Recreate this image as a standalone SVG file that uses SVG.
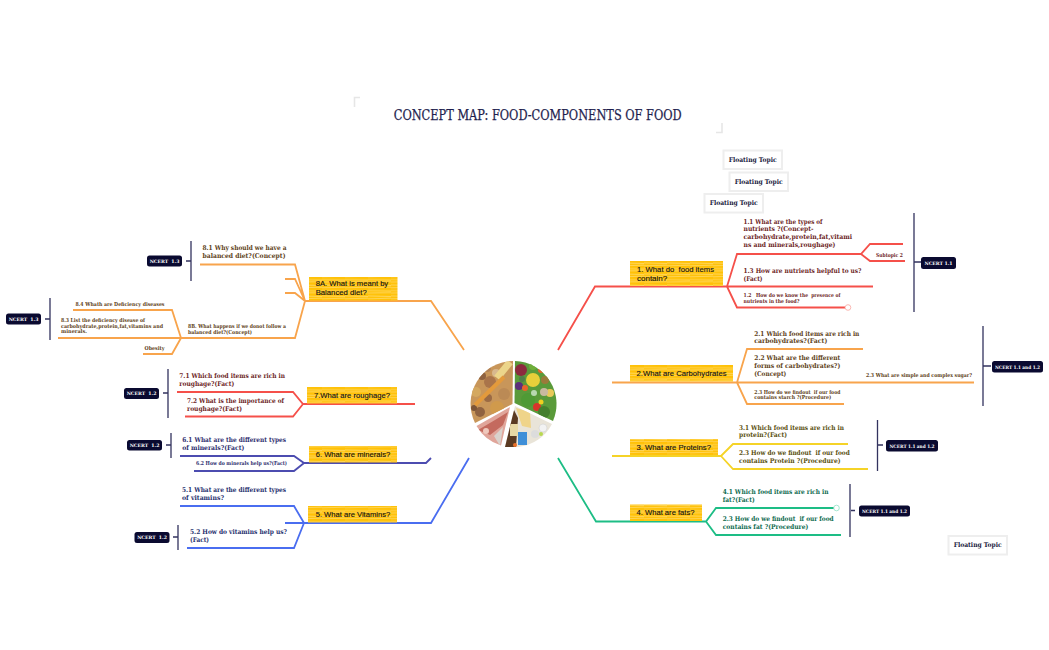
<svg xmlns="http://www.w3.org/2000/svg" width="1049" height="650" viewBox="0 0 1049 650">
<style>
text{font-family:"DejaVu Serif","Liberation Serif",serif;font-weight:700;white-space:pre}
.c{fill:none;stroke-width:1.8;stroke-linejoin:miter}
.red{stroke:#f5504a}.org{stroke:#f8a44c}.yel{stroke:#f5d327}.grn{stroke:#1dbd85}.blu{stroke:#4a6df0}.ind{stroke:#4c4cb0}
.br{stroke:#33335f;stroke-width:1.3;fill:none}
.y{fill:url(#scr)}
.t{font-family:"Liberation Sans",Arial,sans-serif;font-weight:400;font-size:8px;fill:#111;stroke:#111;stroke-width:.12}
.s{font-size:6.600px}.m{font-size:5.400px}
.tr{fill:#6e1f1f}.to{fill:#5e4220}.ty{fill:#5a5010}.tg{fill:#0f6b4f}.tb{fill:#27306e}.ti{fill:#2e2e6e}
.p{fill:#0a0a30}.pt{fill:#fff;font-size:4.600px;text-anchor:middle}
.f{fill:#fff;stroke:#eeeeee;stroke-width:2}.ft{fill:#1a1a40;font-size:6.600px;text-anchor:middle}
</style>
<defs>
<pattern id="scr" width="23" height="5.500" patternUnits="userSpaceOnUse">
<rect width="23" height="5.500" fill="#ffc107"/>
<path d="M0 1.700L23 1.100M0 4.500L23 5" stroke="#ffdf80" stroke-width=".7" fill="none"/>
</pattern>
<clipPath id="pw"><path d="M512.500 404L513 361A43 43 0 0 0 475 423Z"/></clipPath>
<clipPath id="pv"><path d="M514.500 403L515 361A43 43 0 0 1 553 421Z"/></clipPath>
<clipPath id="pd"><path d="M515 406L552 424A43 43 0 0 1 518 447L505 447Z"/></clipPath>
<clipPath id="pm"><path d="M510 407L476.500 426A43 43 0 0 0 501 445.500Z"/></clipPath>
</defs>

<g id="title">
<path d="M360 97.500H354.500V107M716 132.500H722V123" fill="none" stroke="#e6e6e6" stroke-width="1.600"/>
<text x="393.700" y="119.700" font-size="14" textLength="288" lengthAdjust="spacingAndGlyphs" style="font-weight:400;fill:#1e1e4e;stroke:#1e1e4e;stroke-width:.25">CONCEPT MAP: FOOD-COMPONENTS OF FOOD</text>
</g>

<g id="connectors">
<path class="c red" d="M558 350L595 286.500H727M727 286.500L737 254H861L870 244H903M861 254L870 261H905M727 286.500H873M727 286.500L737 307.500H845"/>
<path class="c org" d="M612 382.500H974M737 382.500L747 349H863M737 382.500L747 404H844"/>
<path class="c yel" d="M612 456H721L733 444H848M721 456L733 469H868"/>
<path class="c grn" d="M558 458L596 521.500H706L716 508H834M706 521.500L716 535H841"/>
<path class="c org" d="M464 350L431 301H305M305 301L295 264.500H200M305 301L295 279H285M305 301L295 293H285M305 301L295 338H58M181 338L172 310H73M181 338L172 354H143"/>
<path class="c red" d="M415 404H303L293 392H177M303 404L293 416.500H185"/>
<path class="c ind" d="M431 458L426 463H304L294 456H180M304 463L294 471H194"/>
<path class="c blu" d="M469 458L431 523H285M304 523L294 506H180M304 523L294 548H187"/>
<path class="br" d="M914 213V312M914 262H921M983 326V406M983 366H991M877.500 420V471M878 445H883M850 484V537M851 510.500H855M191 241V281M186 261H191M50 298V340M45 319H50M168 369V418M163 393H168M171 433V458M166 445H171M178 525V550M173 537H178"/>
<circle cx="848" cy="307.500" r="2.800" fill="#fff" stroke="#f9a6a0" stroke-width=".8"/>
<circle cx="836.500" cy="508" r="2.800" fill="#fff" stroke="#8fe0c4" stroke-width=".8"/>
</g>

<g id="center-image">
<g clip-path="url(#pw)">
<rect x="465" y="355" width="50" height="75" fill="#c8965a"/>
<circle cx="490" cy="382" r="6" fill="#a9744a"/><circle cx="496" cy="373" r="4" fill="#d8b88e"/><circle cx="480" cy="412" r="5" fill="#8f6240"/>
<circle cx="504" cy="394" r="6" fill="#bb8a55"/><circle cx="476" cy="392" r="5" fill="#d4a860"/><circle cx="497" cy="408" r="7" fill="#d09a4c"/><circle cx="487" cy="368" r="4" fill="#b28256"/><circle cx="482" cy="376" r="4" fill="#8f6240"/><circle cx="488" cy="398" r="4" fill="#9a6a44"/><circle cx="474" cy="408" r="3" fill="#7d5538"/>
<path d="M510 362L497 378" stroke="#ecd58a" stroke-width="7"/>
<path d="M504 377L475 405" stroke="#e39a3c" stroke-width="4"/>
</g>
<g clip-path="url(#pv)">
<rect x="512" y="355" width="48" height="75" fill="#5a9a3a"/>
<circle cx="521" cy="370" r="6" fill="#8c2a3e"/><circle cx="533" cy="380" r="7" fill="#e8cf3a"/><circle cx="533" cy="366" r="4" fill="#6fae3a"/><circle cx="541" cy="370" r="3" fill="#e8642a"/>
<circle cx="519" cy="386" r="4" fill="#5c2f7a"/><circle cx="545" cy="380" r="4" fill="#9a7a3a"/><circle cx="550" cy="393" r="4" fill="#e8c95a"/><circle cx="522" cy="379" r="3" fill="#4f7f4a"/>
<circle cx="544" cy="392" r="4" fill="#c9b9a0"/><circle cx="537" cy="407" r="4" fill="#d9342a"/><circle cx="525" cy="388" r="3" fill="#e8642a"/><circle cx="528" cy="400" r="7" fill="#4f9a35"/><circle cx="544" cy="412" r="6" fill="#447f2e"/><circle cx="541" cy="402" r="2.500" fill="#f0d020"/><circle cx="534" cy="393" r="3" fill="#b8d8b0"/>
</g>
<g clip-path="url(#pd)">
<rect x="505" y="405" width="52" height="44" fill="#e9e4d8"/>
<path d="M516 408L530 412L531 428L522 426Z" fill="#efd48a"/>
<rect x="518" y="432" width="9" height="13" fill="#3f8fd8"/><circle cx="543" cy="428" r="4" fill="#f2f2f2" stroke="#ccc" stroke-width=".5"/><circle cx="535" cy="434" r="4" fill="#dcdcdc"/><circle cx="541" cy="434" r="2" fill="#b8d850"/>
<path d="M504 424L514 410L518 418L516 447H504Z" fill="#5a3a22"/><rect x="510" y="424" width="8" height="12" fill="#e8d9a6"/><circle cx="515" cy="445" r="2" fill="#e8702a"/>
</g>
<g clip-path="url(#pm)">
<rect x="470" y="405" width="45" height="45" fill="#e0a59a"/>
<path d="M478 430L495 420L508 412L503 425L490 435Z" fill="#c46a5e"/>
<path d="M494 436L503 427L500 446Z" fill="#d9d2cc"/>
<circle cx="486" cy="431" r="3" fill="#efc8bc"/>
</g>
</g>

<g id="floating-1"><rect class="f" x="723.500" y="150.500" width="58.500" height="18.500"/><text class="ft" x="752.700" y="161.500" textLength="48" lengthAdjust="spacingAndGlyphs">Floating Topic</text></g>
<g id="floating-2"><rect class="f" x="729.500" y="172.500" width="58.500" height="18.500"/><text class="ft" x="758.700" y="183.500" textLength="48" lengthAdjust="spacingAndGlyphs">Floating Topic</text></g>
<g id="floating-3"><rect class="f" x="704.500" y="194" width="58.500" height="18.500"/><text class="ft" x="733.700" y="205" textLength="48" lengthAdjust="spacingAndGlyphs">Floating Topic</text></g>
<g id="floating-4"><rect class="f" x="948.500" y="536" width="58.500" height="18.500"/><text class="ft" x="977.700" y="547" textLength="48" lengthAdjust="spacingAndGlyphs">Floating Topic</text></g>

<g id="topic-1"><rect class="y" x="630" y="261" width="93" height="25"/><text class="t" x="637" y="271.700" textLength="77" lengthAdjust="spacingAndGlyphs">1. What do  food items</text><text class="t" x="637" y="280.500">contain?</text></g>
<g id="topic-2"><rect class="y" x="630" y="365" width="103" height="16.500"/><text class="t" x="636.500" y="376" textLength="90" lengthAdjust="spacingAndGlyphs">2.What are Carbohydrates</text></g>
<g id="topic-3"><rect class="y" x="630" y="439" width="88" height="16"/><text class="t" x="636.500" y="450" textLength="74.500" lengthAdjust="spacingAndGlyphs">3. What are Proteins?</text></g>
<g id="topic-4"><rect class="y" x="630" y="504.500" width="72" height="16.500"/><text class="t" x="636.500" y="515" textLength="58" lengthAdjust="spacingAndGlyphs">4. What are fats?</text></g>
<g id="topic-8a"><rect class="y" x="309" y="277" width="88.500" height="23.500"/><text class="t" x="315.700" y="286" textLength="72.500" lengthAdjust="spacingAndGlyphs">8A. What is meant by</text><text class="t" x="315.700" y="295" textLength="51" lengthAdjust="spacingAndGlyphs">Balanced diet?</text></g>
<g id="topic-7"><rect class="y" x="307" y="387" width="90" height="16.500"/><text class="t" x="314" y="398" textLength="76" lengthAdjust="spacingAndGlyphs">7.What are roughage?</text></g>
<g id="topic-6"><rect class="y" x="309" y="446" width="88" height="16.500"/><text class="t" x="315.700" y="456.700" textLength="74.500" lengthAdjust="spacingAndGlyphs">6. What are minerals?</text></g>
<g id="topic-5"><rect class="y" x="308" y="506" width="89" height="16.500"/><text class="t" x="315.700" y="516.700" textLength="74.500" lengthAdjust="spacingAndGlyphs">5. What are Vitamins?</text></g>

<g id="n-1-1"><text class="s tr" x="743.500" y="223.500" textLength="79" lengthAdjust="spacingAndGlyphs">1.1 What are the types of</text><text class="s tr" x="743.500" y="231" textLength="70" lengthAdjust="spacingAndGlyphs">nutrients ?(Concept-</text><text class="s tr" x="743.500" y="239" textLength="108.700" lengthAdjust="spacingAndGlyphs">carbohydrate,protein,fat,vitami</text><text class="s tr" x="743.500" y="246.500" textLength="92" lengthAdjust="spacingAndGlyphs">ns and minerals,roughage)</text></g>
<g id="n-sub2"><text class="m tr" x="876" y="257" textLength="27" lengthAdjust="spacingAndGlyphs">Subtopic 2</text></g>
<g id="n-1-3"><text class="s tr" x="743.500" y="272.500" textLength="118" lengthAdjust="spacingAndGlyphs">1.3 How are nutrients helpful to us?</text><text class="s tr" x="743.500" y="280.500" textLength="19" lengthAdjust="spacingAndGlyphs">(Fact)</text></g>
<g id="n-1-2"><text class="m tr" x="743.500" y="297" textLength="97" lengthAdjust="spacingAndGlyphs">1.2   How do we know the  presence of</text><text class="m tr" x="743.500" y="303" textLength="56" lengthAdjust="spacingAndGlyphs">nutrients in the food?</text></g>
<g id="p-1"><rect class="p" x="921" y="257" width="35" height="12" rx="2.500"/><text class="pt" x="938.500" y="264.700">NCERT 1.1</text></g>

<g id="n-2-1"><text class="s to" x="754.300" y="335.700" textLength="105" lengthAdjust="spacingAndGlyphs">2.1 Which food items are rich in</text><text class="s to" x="754.300" y="343" textLength="73" lengthAdjust="spacingAndGlyphs">carbohydrates?(Fact)</text></g>
<g id="n-2-2"><text class="s to" x="754.300" y="360.300" textLength="86" lengthAdjust="spacingAndGlyphs">2.2 What are the different</text><text class="s to" x="754.300" y="368" textLength="86" lengthAdjust="spacingAndGlyphs">forms of carbohydrates?)</text><text class="s to" x="754.300" y="376" textLength="32" lengthAdjust="spacingAndGlyphs">(Concept)</text></g>
<g id="n-2-3b"><text class="m to" x="866" y="377.300" textLength="106" lengthAdjust="spacingAndGlyphs">2.3 What are simple and complex sugar?</text></g>
<g id="n-2-3"><text class="m to" x="754.300" y="393.700" textLength="86" lengthAdjust="spacingAndGlyphs">2.3 How do we findout  if our food</text><text class="m to" x="754.300" y="399.300" textLength="77" lengthAdjust="spacingAndGlyphs">contains starch ?(Procedure)</text></g>
<g id="p-2"><rect class="p" x="992" y="361" width="51" height="11.500" rx="2.500"/><text class="pt" x="1017.500" y="368.500" textLength="45" lengthAdjust="spacingAndGlyphs">NCERT 1.1 and 1.2</text></g>

<g id="n-3-1"><text class="s ty" x="739" y="429.700" textLength="105" lengthAdjust="spacingAndGlyphs">3.1 Which food items are rich in</text><text class="s ty" x="739" y="437.300" textLength="48" lengthAdjust="spacingAndGlyphs">protein?(Fact)</text></g>
<g id="n-3-2"><text class="s ty" x="739" y="454.700" textLength="110.700" lengthAdjust="spacingAndGlyphs">2.3 How do we findout  if our food</text><text class="s ty" x="739" y="462.700" textLength="101.700" lengthAdjust="spacingAndGlyphs">contains Protein ?(Procedure)</text></g>
<g id="p-3"><rect class="p" x="886" y="440" width="52" height="11.500" rx="2.500"/><text class="pt" x="912" y="447.500" textLength="45" lengthAdjust="spacingAndGlyphs">NCERT 1.1 and 1.2</text></g>

<g id="n-4-1"><text class="s tg" x="722.700" y="494.300" textLength="105.700" lengthAdjust="spacingAndGlyphs">4.1 Which food items are rich in</text><text class="s tg" x="722.700" y="502" textLength="32" lengthAdjust="spacingAndGlyphs">fat?(Fact)</text></g>
<g id="n-4-2"><text class="s tg" x="722.700" y="521" textLength="111" lengthAdjust="spacingAndGlyphs">2.3 How do we findout  if our food</text><text class="s tg" x="722.700" y="529" textLength="85.700" lengthAdjust="spacingAndGlyphs">contains fat ?(Procedure)</text></g>
<g id="p-4"><rect class="p" x="859" y="505.500" width="51" height="11" rx="2.500"/><text class="pt" x="884.500" y="512.700" textLength="45" lengthAdjust="spacingAndGlyphs">NCERT 1.1 and 1.2</text></g>

<g id="n-8-1"><text class="s to" x="202.500" y="250" textLength="84" lengthAdjust="spacingAndGlyphs">8.1 Why should we have a</text><text class="s to" x="202.500" y="258" textLength="83" lengthAdjust="spacingAndGlyphs">balanced diet?(Concept)</text></g>
<g id="n-8-4"><text class="m to" x="75.500" y="306" textLength="89" lengthAdjust="spacingAndGlyphs">8.4 Whath are Deficiency diseases</text></g>
<g id="n-8-3"><text class="m to" x="61" y="321.700" textLength="84" lengthAdjust="spacingAndGlyphs">8.3 List the deficiency disease of</text><text class="m to" x="61" y="327.700" textLength="102" lengthAdjust="spacingAndGlyphs">carbohydrate,protein,fat,vitamins and</text><text class="m to" x="61" y="333.300" textLength="26" lengthAdjust="spacingAndGlyphs">minerals.</text></g>
<g id="n-8b"><text class="m to" x="188" y="327.700" textLength="98" lengthAdjust="spacingAndGlyphs">8B. What happens if we donot follow a</text><text class="m to" x="188" y="333.700" textLength="64" lengthAdjust="spacingAndGlyphs">balanced diet?(Concept)</text></g>
<g id="n-obesity"><text class="m to" x="144.500" y="349.700" textLength="20" lengthAdjust="spacingAndGlyphs">Obesity</text></g>
<g id="p-8a"><rect class="p" x="147" y="255.500" width="35" height="11" rx="2.500"/><text class="pt" x="164.500" y="262.800">NCERT  1.3</text></g>
<g id="p-8b"><rect class="p" x="6" y="313.500" width="35" height="11" rx="2.500"/><text class="pt" x="23.500" y="320.800">NCERT  1.3</text></g>

<g id="n-7-1"><text class="s tr" x="179.300" y="377.700" textLength="105.700" lengthAdjust="spacingAndGlyphs">7.1 Which food items are rich in</text><text class="s tr" x="179.300" y="385.700" textLength="55" lengthAdjust="spacingAndGlyphs">roughage?(Fact)</text></g>
<g id="n-7-2"><text class="s tr" x="187" y="402.700" textLength="97" lengthAdjust="spacingAndGlyphs">7.2 What is the importance of</text><text class="s tr" x="187" y="410.700" textLength="55" lengthAdjust="spacingAndGlyphs">roughage?(Fact)</text></g>
<g id="p-7"><rect class="p" x="124" y="388" width="35" height="11" rx="2.500"/><text class="pt" x="141.500" y="395.300">NCERT  1.2</text></g>

<g id="n-6-1"><text class="s ti" x="182.300" y="442.300" textLength="103.700" lengthAdjust="spacingAndGlyphs">6.1 What are the different types</text><text class="s ti" x="182.300" y="450" textLength="62" lengthAdjust="spacingAndGlyphs">of minerals?(Fact)</text></g>
<g id="n-6-2"><text class="m ti" x="196" y="465.300" textLength="91" lengthAdjust="spacingAndGlyphs">6.2 How do minerals help us?(Fact)</text></g>
<g id="p-6"><rect class="p" x="127" y="440" width="35" height="10.500" rx="2.500"/><text class="pt" x="144.500" y="447">NCERT  1.2</text></g>

<g id="n-5-1"><text class="s tb" x="182" y="492.300" textLength="104" lengthAdjust="spacingAndGlyphs">5.1 What are the different types</text><text class="s tb" x="182" y="500.300" textLength="42" lengthAdjust="spacingAndGlyphs">of vitamins?</text></g>
<g id="n-5-2"><text class="s tb" x="190" y="534" textLength="97" lengthAdjust="spacingAndGlyphs">5.2 How do vitamins help us?</text><text class="s tb" x="190" y="541.700" textLength="19" lengthAdjust="spacingAndGlyphs">(Fact)</text></g>
<g id="p-5"><rect class="p" x="134.500" y="532" width="35" height="11" rx="2.500"/><text class="pt" x="152" y="539.300">NCERT  1.2</text></g>
</svg>
